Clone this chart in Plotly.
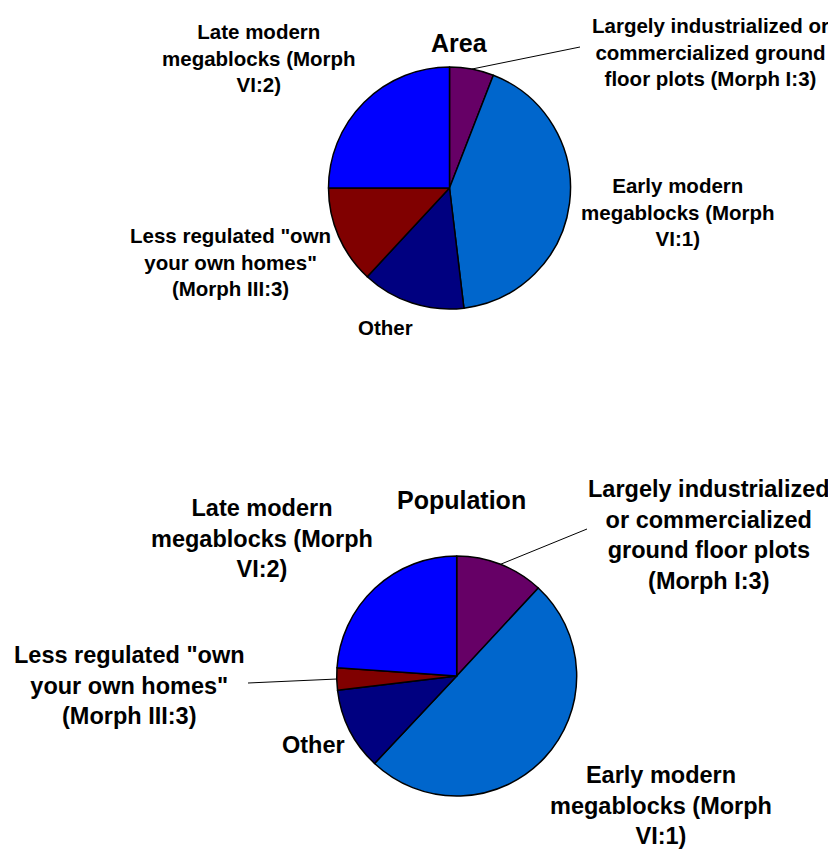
import math
import plotly.graph_objects as go

# The page body keeps the browser's default 8px margin, so the figure is
# drawn 8px in from the window corner; size and position compensate for it.
WIN_W, WIN_H = 836, 852
OFF = 8
W, H = WIN_W - OFF, WIN_H - OFF

# ---- data -------------------------------------------------------------
categories = [
    "Largely industrialized or commercialized ground floor plots (Morph I:3)",
    "Early modern megablocks (Morph VI:1)",
    "Other",
    'Less regulated "own your own homes" (Morph III:3)',
    "Late modern megablocks (Morph VI:2)",
]
area_values = [5.9, 42.2, 13.8, 13.1, 25.0]
population_values = [11.9, 50.1, 11.1, 3.0, 23.9]
colors = ["#660066", "#0066CC", "#000080", "#800000", "#0000FF"]

area_labels = [
    "Largely industrialized or<br>commercialized ground<br>floor plots (Morph I:3)",
    "Early modern<br>megablocks (Morph<br>VI:1)",
    "Other",
    'Less regulated "own<br>your own homes"<br>(Morph III:3)',
    "Late modern<br>megablocks (Morph<br>VI:2)",
]
population_labels = [
    "Largely industrialized<br>or commercialized<br>ground floor plots<br>(Morph I:3)",
    "Early modern<br>megablocks (Morph<br>VI:1)",
    "Other",
    'Less regulated "own<br>your own homes"<br>(Morph III:3)',
    "Late modern<br>megablocks (Morph<br>VI:2)",
]

# ---- layout geometry (window pixels) ----------------------------------
FONT = "Liberation Sans, Arial, Helvetica, sans-serif"
pies = [
    dict(name="Area", values=area_values, labels=area_labels,
         cx=449.5, cy=188, r=121, title_pos=(459, 43), fsize=20.5,
         label_pos=[(710, 52), (678, 212), (385, 327), (230, 262), (259, 58)],
         leaders={0: (580, 47)}),
    dict(name="Population", values=population_values, labels=population_labels,
         cx=456.7, cy=676, r=120, title_pos=(461, 500), fsize=23.5,
         label_pos=[(709, 535), (661, 805), (313, 745), (130, 685), (262, 538)],
         leaders={0: (587, 529), 3: (248, 683)}),
]


def px(x):
    return (x - OFF) / W


def py(y):
    return 1 - (y - OFF) / H


fig = go.Figure()
annotations = []
shapes = []

for p in pies:
    cx, cy, r = p["cx"], p["cy"], p["r"]
    fig.add_trace(go.Pie(
        labels=categories,
        values=p["values"],
        sort=False,
        direction="clockwise",
        rotation=0,
        marker=dict(colors=colors, line=dict(color="black", width=1.5)),
        textinfo="none",
        hoverinfo="label+percent",
        showlegend=False,
        domain=dict(x=[px(cx - r), px(cx + r)], y=[py(cy + r), py(cy - r)]),
        name=p["name"],
    ))
    # title
    annotations.append(dict(
        text=p["name"], x=px(p["title_pos"][0]), y=py(p["title_pos"][1]),
        xref="paper", yref="paper", showarrow=False,
        xanchor="center", yanchor="middle",
        font=dict(family=FONT, size=25, color="black", weight="bold"),
    ))
    # slice labels
    total = sum(p["values"])
    cum = 0.0
    for i, (v, lab) in enumerate(zip(p["values"], p["labels"])):
        mid = (cum + v / 2) / total * 2 * math.pi
        cum += v
        lx, ly = p["label_pos"][i]
        annotations.append(dict(
            text=lab, x=px(lx), y=py(ly), xref="paper", yref="paper",
            showarrow=False, xanchor="center", yanchor="middle", align="center",
            font=dict(family=FONT, size=p["fsize"], color="black", weight="bold"),
        ))
        if i in p["leaders"]:
            ex = cx + r * math.sin(mid)
            ey = cy - r * math.cos(mid)
            tx, ty = p["leaders"][i]
            shapes.append(dict(
                type="line", xref="paper", yref="paper",
                x0=px(ex), y0=py(ey), x1=px(tx), y1=py(ty),
                line=dict(color="black", width=1),
            ))

fig.update_layout(
    width=W, height=H,
    margin=dict(l=0, r=0, t=0, b=0),
    paper_bgcolor="white",
    plot_bgcolor="white",
    annotations=annotations,
    shapes=shapes,
)

fig.write_html("out.html")
